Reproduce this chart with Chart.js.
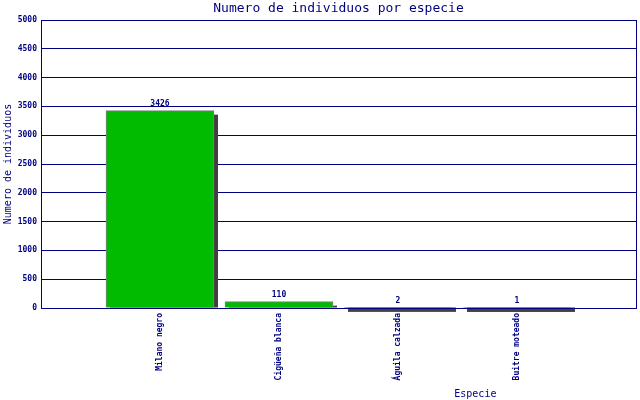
<!DOCTYPE html>
<html>
<head>
<meta charset="utf-8">
<script src="https://cdn.jsdelivr.net/npm/chart.js@4/dist/chart.umd.min.js"></script>
<style>
  html, body { margin: 0; padding: 0; background: #fff; }
  #wrap { width: 640px; height: 400px; }
</style>
</head>
<body>
<div id="wrap"><canvas id="chart" width="640" height="400"></canvas></div>
<script>
// data
const species = ['Milano negro', 'Cigüeña blanca', 'Águila calzada', 'Buitre moteado']
const counts = [3426, 110, 2, 1]
const yTicks = [0, 500, 1000, 1500, 2000, 2500, 3000, 3500, 4000, 4500, 5000]

const NAVY = '#000080'
const MONO = '"DejaVu Sans Mono", "Liberation Mono", monospace'

// empty slot at each end so the bars sit where the original puts them
const labels = [''].concat(species, [''])
const values = [null].concat(counts, [null])

// drop shadow behind every bar
const shadowPlugin = {
  id: 'shadow',
  beforeDatasetsDraw(chart) {
    const ctx = chart.ctx
    const meta = chart.getDatasetMeta(0)
    ctx.save()
    ctx.fillStyle = '#404040'
    meta.data.forEach((bar, i) => {
      if (values[i] == null) return
      const p = bar.getProps(['x', 'y', 'base', 'width'], true)
      const left = p.x - p.width / 2 + 4
      const top = p.y + 4
      ctx.fillRect(left, top, p.width, p.base - top)
    })
    ctx.restore()
  },
  afterDatasetsDraw(chart) {
    const ctx = chart.ctx
    const meta = chart.getDatasetMeta(0)
    const area = chart.chartArea
    ctx.save()
    // value labels
    ctx.fillStyle = NAVY
    ctx.font = 'bold 8px ' + MONO
    ctx.textAlign = 'center'
    ctx.textBaseline = 'bottom'
    meta.data.forEach((bar, i) => {
      if (values[i] == null) return
      ctx.fillText(String(values[i]), bar.x, bar.y - 3)
    })
    // right frame line
    ctx.strokeStyle = NAVY
    ctx.lineWidth = 1
    ctx.beginPath()
    ctx.moveTo(Math.round(area.right) + 0.5, area.top)
    ctx.lineTo(Math.round(area.right) + 0.5, area.bottom)
    ctx.stroke()
    // x axis title, off-centre like the original
    ctx.font = '10px ' + MONO
    ctx.textBaseline = 'middle'
    ctx.fillText('Especie', area.left + (area.right - area.left) * 0.73, chart.height - 6)
    ctx.restore()
  },
}

new Chart(document.getElementById('chart'), {
  type: 'bar',
  data: {
    labels,
    datasets: [
      {
        label: 'Individuos',
        data: values,
        backgroundColor: '#00bb00',
        borderColor: '#808080',
        borderWidth: 1,
        barThickness: 108,
      },
    ],
  },
  options: {
    responsive: false,
    animation: false,
    layout: { padding: { left: 0, right: 4, top: 0, bottom: 0 } },
    plugins: {
      legend: { display: false },
      tooltip: { enabled: false },
      title: {
        display: true,
        text: 'Numero de individuos por especie',
        color: NAVY,
        fullSize: false,
        font: { family: MONO, size: 13, weight: 'normal', lineHeight: '15px' },
        padding: { top: 1, bottom: 4 },
      },
    },
    scales: {
      x: {
        offset: false,
        grid: { display: false, drawTicks: false, tickLength: 0 },
        border: { display: true, color: NAVY, width: 1, z: 1 },
        ticks: {
          autoSkip: false,
          minRotation: 90,
          maxRotation: 90,
          padding: 5,
          color: NAVY,
          font: { family: MONO, size: 8, weight: 'bold' },
        },
        afterFit(scale) {
          scale.height = 92
          scale.paddingLeft = 0
          scale.paddingRight = 0
        },
      },
      y: {
        min: 0,
        max: 5000,
        afterBuildTicks(scale) { scale.ticks = yTicks.map((v) => ({ value: v })) },
        grid: { color: NAVY, lineWidth: 1, drawTicks: false },
        border: { display: true, color: NAVY, width: 1, z: 1 },
        ticks: {
          padding: 4,
          color: NAVY,
          font: { family: MONO, size: 8, weight: 'bold' },
          callback: (v) => String(v),
        },
        title: {
          display: true,
          text: 'Numero de individuos',
          color: NAVY,
          font: { family: MONO, size: 10 },
          padding: { top: 2, bottom: 0 },
        },
        afterFit(scale) {
          scale.width = 41
          scale.paddingTop = 0
          scale.paddingBottom = 0
        },
      },
    },
  },
  plugins: [shadowPlugin],
})
</script>
</body>
</html>
